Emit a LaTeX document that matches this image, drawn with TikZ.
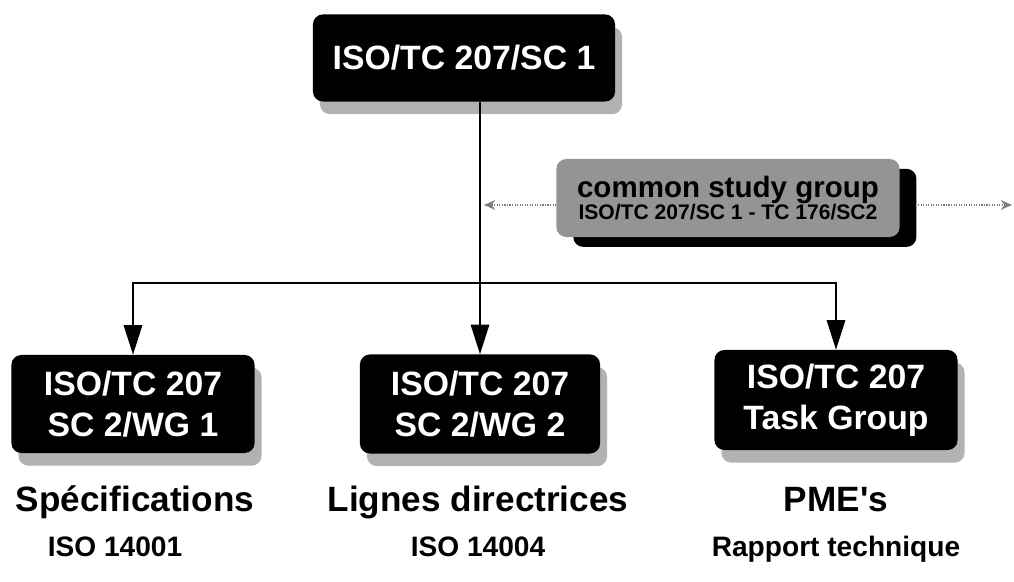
\documentclass[tikz,border=0pt]{standalone}
\usepackage{fontspec}
\setmainfont{Liberation Sans}
\usetikzlibrary{arrows.meta,shadows}

\tikzset{
  orgbox/.style={rectangle, rounded corners=7pt, fill=black, text=white,
    font=\bfseries\fontsize{24}{29}\selectfont, align=center, inner sep=0pt,
    drop shadow={shadow xshift=5pt, shadow yshift=-9pt, fill=black!30, opacity=1}},
  groupbox/.style={rectangle, rounded corners=7pt, fill=black!42, text=black,
    align=center, inner sep=0pt, minimum width=8.575cm, minimum height=1.95cm,
    drop shadow={shadow xshift=12pt, shadow yshift=-7pt, fill=black, opacity=1}},
  lblbig/.style={anchor=base, font=\bfseries\fontsize{25}{30}\selectfont},
  lblsmall/.style={anchor=base, font=\bfseries\fontsize{20}{24}\selectfont},
  arr/.style={line width=1.5pt, -{Triangle[length=21pt, width=13pt]}},
  dotarr/.style={gray, line width=0.8pt, densely dotted, -{Stealth[length=8pt, width=7pt]}}
}

\begin{document}
\begin{tikzpicture}[x=0.025cm, y=-0.025cm]
  \useasboundingbox (0,0) rectangle (1014,582);
  % Top committee
  \node[orgbox, minimum width=7.55cm, minimum height=2.175cm] (sc1) at (464,58) {ISO/TC 207/SC 1};
  % Working groups
  \node[orgbox, minimum width=6.075cm, minimum height=2.45cm] (wg1) at (133,404) {ISO/TC 207\\SC 2/WG 1};
  \node[orgbox, minimum width=6.0cm, minimum height=2.475cm] (wg2) at (480,404) {ISO/TC 207\\SC 2/WG 2};
  \node[orgbox, minimum width=6.075cm, minimum height=2.5cm] (task) at (836,400) {ISO/TC 207\\Task Group};
  % Common study group
  \node[groupbox] (grp) at (728,198) {{\bfseries\fontsize{21}{24}\selectfont common study group}\\[-1pt]
    {\bfseries\fontsize{15}{18}\selectfont ISO/TC 207/SC 1 - TC 176/SC2}};
  % Connectors
  \coordinate (fork) at (480,283);
  \draw[arr] (sc1.south -| wg2.north) -- (wg2.north);
  \draw[arr] (fork) -| (wg1.north);
  \draw[arr] (fork) -| (task.north);
  \coordinate (grpin) at (484,205);
  \coordinate (grpout) at (1012,205);
  \draw[dotarr] (grp.west |- grpin) -- (grpin);
  \draw[dotarr] ([xshift=13pt]grp.east |- grpout) -- (grpout);
  % Labels under the boxes
  \node[lblbig] (spec) at (135,512) {Spécifications};
  \node[lblbig] (ligne) at (478,512) {Lignes directrices};
  \node[lblbig] (pme) at (836,512) {PME\textquotesingle s};
  \node[lblsmall] (iso1) at (115,557) {ISO 14001};
  \node[lblsmall] (iso4) at (478,557) {ISO 14004};
  \node[lblsmall] (rapp) at (836,557) {Rapport technique};
\end{tikzpicture}
\end{document}
